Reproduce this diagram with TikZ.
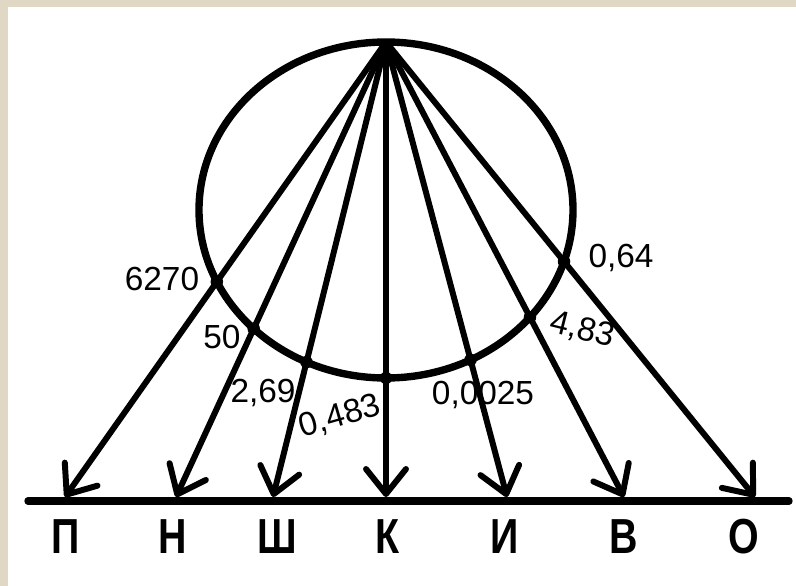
\documentclass[tikz,border=0pt]{standalone}
\usepackage{fontspec}
\setmainfont{Liberation Sans}
\usetikzlibrary{arrows.meta,calc}
\definecolor{framebeige}{RGB}{224,216,196}

\begin{document}
\begin{tikzpicture}[
  num/.style={inner sep=0pt, font=\fontsize{19}{19}\selectfont},
  letter/.style={inner sep=0pt, font=\bfseries\fontsize{28}{28}\selectfont, xscale=0.8},
  dot/.style={circle, fill, inner sep=0pt, minimum size=0.25cm},
  ray/.style={line width=3.4pt, -{Straight Barb[length=0.5cm, width=0.8cm, round]}}
]
\fill[framebeige] (0,0) rectangle (15.92,-11.72);
\fill[white] (0.16,-0.14) rectangle (15.92,-11.72);
\useasboundingbox (0,0) rectangle (15.92,-11.72);

\draw[line width=4.2pt] (7.72,-4.2) ellipse [x radius=3.74, y radius=3.36];
\coordinate (apex) at (7.72,-0.84);
\coordinate (tP) at (1.30,-9.94);
\coordinate (tN) at (3.52,-9.94);
\coordinate (tSh) at (5.46,-9.94);
\coordinate (tK) at (7.72,-9.94);
\coordinate (tI) at (10.14,-9.94);
\coordinate (tV) at (12.48,-9.94);
\coordinate (tO) at (15.10,-9.94);
\coordinate (gl) at (0.56,-10.02);
\coordinate (gr) at (15.78,-10.02);

\draw[ray] (apex) -- (tP);
\draw[ray] (apex) -- (tN);
\draw[ray] (apex) -- (tSh);
\draw[ray] (apex) -- (tK);
\draw[ray] (apex) -- (tI);
\draw[ray] (apex) -- (tV);
\draw[ray] (apex) -- (tO);
\draw[line width=4.2pt, line cap=round] (gl) -- (gr);

\node[dot] (dP) at ($(apex)!0.527!(tP)$) {};
\node[dot] (dN) at ($(apex)!0.630!(tN)$) {};
\node[dot] (dSh) at ($(apex)!0.7035!(tSh)$) {};
\node[dot] (dK) at ($(apex)!0.7385!(tK)$) {};
\node[dot] (dI) at ($(apex)!0.6986!(tI)$) {};
\node[dot] (dV) at ($(apex)!0.6049!(tV)$) {};
\node[dot] (dO) at ($(apex)!0.4824!(tO)$) {};

\node[num] (lP) at (3.24,-5.58) {6270};
\node[num] (lN) at (4.44,-6.74) {50};
\node[num] (lSh) at (5.26,-7.86) {2,69};
\node[num, rotate=16] (lK) at (6.80,-8.34) {0,483};
\node[num] (lI) at (9.66,-7.90) {0,0025};
\node[num, rotate=-14] (lV) at (11.64,-6.60) {4,83};
\node[num] (lO) at (12.42,-5.16) {0,64};

\node[letter] (P) at (1.32,-10.74) {П};
\node[letter] (N) at (3.46,-10.74) {Н};
\node[letter] (Sh) at (5.54,-10.74) {Ш};
\node[letter] (K) at (7.76,-10.74) {К};
\node[letter] (I) at (10.10,-10.74) {И};
\node[letter] (V) at (12.48,-10.74) {В};
\node[letter] (O) at (14.88,-10.74) {О};
\end{tikzpicture}
\end{document}
